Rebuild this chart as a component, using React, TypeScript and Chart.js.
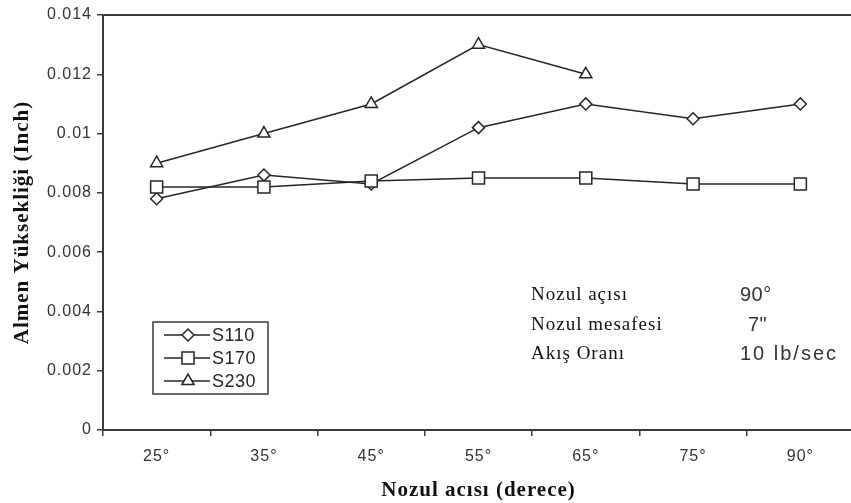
import { useEffect, useRef } from 'react';
import { Chart, registerables } from 'chart.js';
import { drawPoint } from 'chart.js/helpers';

Chart.register(...registerables);

// Nozzle angle categories (x axis)
const angles = ['25°', '35°', '45°', '55°', '65°', '75°', '90°'];

// Almen height (inch) per shot size
const s110 = [0.0078, 0.0086, 0.0083, 0.0102, 0.011, 0.0105, 0.011];
const s170 = [0.0082, 0.0082, 0.0084, 0.0085, 0.0085, 0.0083, 0.0083];
const s230 = [0.009, 0.01, 0.011, 0.013, 0.012, null, null];

const seriesNames = ['S110', 'S170', 'S230'];
const seriesMarkers = ['rectRot', 'rect', 'triangle'];
const seriesRadius = [6, 8.5, 7];

const yTickLabels = ['0', '0.002', '0.004', '0.006', '0.008', '0.01', '0.012', '0.014'];

// Test conditions printed inside the plot
const conditionLabels = ['Nozul açısı', 'Nozul mesafesi', 'Akış Oranı'];
const conditionValues = ['90°', '7"', '10 lb/sec'];

const INK = '#262626';
const AXIS = '#3a3a3a';

const spacedText = {
  id: 'spacedText',
  beforeLayout(chart: any) {
    chart.ctx.letterSpacing = '1px';
  },
  beforeDraw(chart: any) {
    chart.ctx.letterSpacing = '1px';
  },
};

const frameTop = {
  id: 'frameTop',
  beforeDatasetsDraw(chart: any) {
    const { ctx, chartArea } = chart;
    ctx.save();
    ctx.strokeStyle = AXIS;
    ctx.lineWidth = 2;
    ctx.beginPath();
    ctx.moveTo(chartArea.left, chartArea.top);
    ctx.lineTo(chartArea.right, chartArea.top);
    ctx.stroke();
    ctx.restore();
  },
};

const legendAndNotes = {
  id: 'legendAndNotes',
  afterDraw(chart: any) {
    const { ctx } = chart;
    ctx.save();

    // legend box
    ctx.strokeStyle = AXIS;
    ctx.lineWidth = 1.5;
    ctx.strokeRect(153, 322, 115, 72);

    seriesNames.forEach((name, i) => {
      const y = 335 + i * 23;
      ctx.strokeStyle = INK;
      ctx.lineWidth = 1.5;
      ctx.beginPath();
      ctx.moveTo(164, y);
      ctx.lineTo(210, y);
      ctx.stroke();
      ctx.fillStyle = '#ffffff';
      drawPoint(
        ctx,
        { pointStyle: seriesMarkers[i], radius: seriesRadius[i], borderWidth: 1.5, rotation: 0 } as any,
        188,
        y
      );
      ctx.fillStyle = INK;
      ctx.font = '18px "Liberation Sans", Arial, sans-serif';
      ctx.textAlign = 'left';
      ctx.textBaseline = 'middle';
      ctx.letterSpacing = '0.5px';
      ctx.fillText(name, 212, y + 1);
    });

    // test conditions
    const rows = [295, 325, 354];
    conditionLabels.forEach((label, i) => {
      ctx.fillStyle = '#111';
      ctx.font = '19px "Liberation Serif", "Times New Roman", serif';
      ctx.textAlign = 'left';
      ctx.textBaseline = 'middle';
      ctx.letterSpacing = '1px';
      ctx.fillText(label, 531, rows[i]);
      ctx.fillStyle = '#333';
      ctx.font = '20px "Liberation Sans", Arial, sans-serif';
      ctx.letterSpacing = i === 2 ? '2px' : '0.5px';
      ctx.fillText(conditionValues[i], i === 1 ? 748 : 740, rows[i]);
    });
    ctx.restore();
  },
};

export default function App() {
  const canvasRef = useRef<HTMLCanvasElement | null>(null);

  useEffect(() => {
    const canvas = canvasRef.current;
    if (!canvas) return;

    const lineStyle = (i: number) => ({
      borderColor: INK,
      borderWidth: 1.5,
      pointStyle: seriesMarkers[i] as any,
      pointRadius: seriesRadius[i],
      pointHoverRadius: seriesRadius[i],
      pointBackgroundColor: '#ffffff',
      pointBorderColor: INK,
      pointBorderWidth: 1.5,
      tension: 0,
      fill: false,
    });

    const chart = new Chart(canvas, {
      type: 'line',
      data: {
        labels: angles,
        datasets: [
          { label: seriesNames[0], data: s110, order: 1, ...lineStyle(0) },
          { label: seriesNames[1], data: s170, order: 0, ...lineStyle(1) },
          { label: seriesNames[2], data: s230, order: 2, ...lineStyle(2) },
        ],
      },
      options: {
        responsive: false,
        animation: false,
        devicePixelRatio: 1,
        layout: { padding: { left: 0, top: 15, right: 16, bottom: 0 } },
        plugins: {
          legend: { display: false },
          tooltip: { enabled: false },
        },
        scales: {
          x: {
            type: 'category',
            offset: true,
            grid: {
              offset: true,
              drawOnChartArea: false,
              drawTicks: true,
              tickLength: 6,
              color: AXIS,
              lineWidth: 1.5,
            },
            border: { display: true, color: AXIS, width: 2 },
            ticks: {
              color: '#333',
              padding: 11,
              maxRotation: 0,
              font: { family: '"Liberation Sans", Arial, sans-serif', size: 16 },
            },
            title: {
              display: true,
              text: 'Nozul acısı (derece)',
              color: '#111',
              padding: { top: 0, bottom: 0 },
              font: { family: '"Liberation Serif", "Times New Roman", serif', size: 21, weight: 'bold' },
            },
            afterFit: (s: any) => {
              s.height = 73;
            },
          },
          y: {
            min: 0,
            max: 0.014,
            grid: {
              drawOnChartArea: false,
              drawTicks: true,
              tickLength: 6,
              color: AXIS,
              lineWidth: 1.5,
            },
            border: { display: true, color: AXIS, width: 2 },
            ticks: {
              stepSize: 0.002,
              color: '#333',
              padding: 5,
              font: { family: '"Liberation Sans", Arial, sans-serif', size: 16 },
              callback: (_v: any, i: number) => yTickLabels[i],
            },
            title: {
              display: true,
              text: 'Almen Yüksekliği (Inch)',
              color: '#111',
              padding: { top: 10, bottom: 0 },
              font: { family: '"Liberation Serif", "Times New Roman", serif', size: 21, weight: 'bold' },
            },
            afterFit: (s: any) => {
              s.width = 103;
            },
          },
        },
      },
      plugins: [spacedText, frameTop, legendAndNotes],
    });

    return () => chart.destroy();
  }, []);

  return (
    <div
      style={{
        position: 'fixed',
        left: 0,
        top: 0,
        width: 851,
        height: 503,
        overflow: 'hidden',
        background: '#ffffff',
      }}
    >
      <canvas ref={canvasRef} width={870} height={503} style={{ display: 'block' }} />
    </div>
  );
}
